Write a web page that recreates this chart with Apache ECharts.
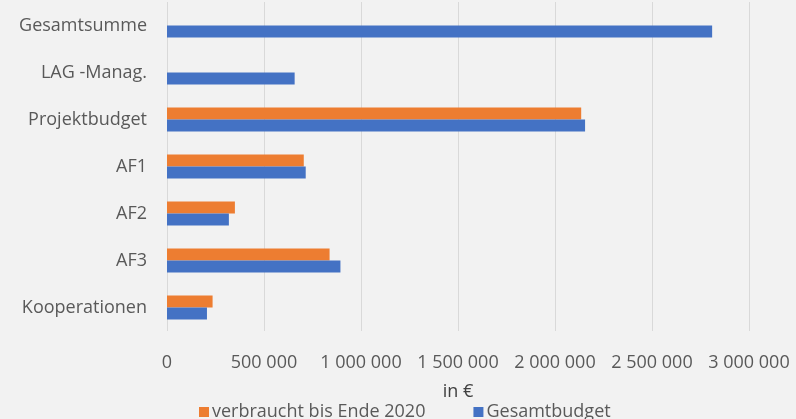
<!DOCTYPE html>
<html><head><meta charset="utf-8">
<script src="https://cdn.jsdelivr.net/npm/echarts@6/dist/echarts.min.js"></script>
<style>html,body{margin:0;padding:0;background:#f2f2f2}#c{width:796px;height:419px}</style>
</head><body><div id="c"></div>
<script>
const categories = ['Gesamtsumme', 'LAG -Manag.', 'Projektbudget', 'AF1', 'AF2', 'AF3', 'Kooperationen'];
const verbraucht = [null, null, 2135000, 705000, 350000, 838000, 235000];
const gesamtbudget = [2810000, 658000, 2155000, 715000, 319000, 894000, 206000];
const seriesNames = ['verbraucht bis Ende 2020', 'Gesamtbudget'];
const xTicks = {min: 0, max: 3000000, interval: 500000};
const axisName = 'in €';

const font = '"Open Sans", sans-serif';
const chart = echarts.init(document.getElementById('c'));
chart.setOption({
  backgroundColor: '#f2f2f2',
  animation: false,
  legend: {
    top: 398, left: 194, itemWidth: 10, itemHeight: 10, itemGap: 48,
    icon: 'rect',
    textStyle: {color: '#595959', fontSize: 18, fontFamily: font, padding: [0, 0, 0, -2]},
    data: seriesNames
  },
  grid: {left: 167, right: 47, top: 2, bottom: 88},
  xAxis: {
    type: 'value', min: xTicks.min, max: xTicks.max, interval: xTicks.interval,
    name: axisName, nameLocation: 'middle', nameGap: 52,
    nameTextStyle: {color: '#404040', fontSize: 18, fontFamily: font},
    axisLabel: {color: '#595959', fontSize: 18, fontFamily: font, margin: 23,
      formatter: v => v === 0 ? '0' : String(v).replace(/\B(?=(\d{3})+(?!\d))/g, ' ')},
    axisLine: {show: false}, axisTick: {show: false},
    splitLine: {lineStyle: {color: '#d9d9d9'}}
  },
  yAxis: {
    type: 'category', data: categories, inverse: true,
    axisLine: {show: false}, axisTick: {show: false},
    axisLabel: {color: '#595959', fontSize: 18, fontFamily: font, margin: 20}
  },
  series: [
    {name: seriesNames[0], type: 'bar', data: verbraucht, barWidth: 12, barGap: '0%', itemStyle: {color: '#ED7D31'}},
    {name: seriesNames[1], type: 'bar', data: gesamtbudget, barWidth: 12, barGap: '0%', itemStyle: {color: '#4472C4'}}
  ]
});
</script></body></html>
